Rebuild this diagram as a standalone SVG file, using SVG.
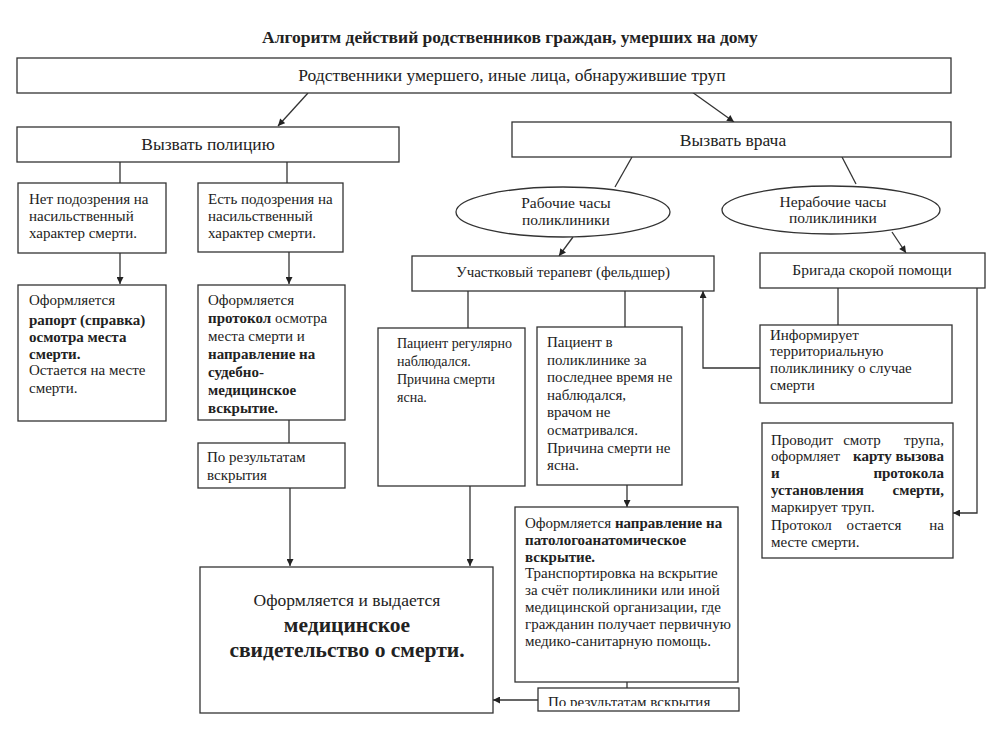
<svg xmlns="http://www.w3.org/2000/svg" width="1000" height="734" viewBox="0 0 1000 734" font-family="'Liberation Serif', 'DejaVu Serif', 'Times New Roman', serif">
<style>
.box{fill:#fff;stroke:#333;stroke-width:1.3}
.ln{fill:none;stroke:#333;stroke-width:1.3}
text{fill:#222;font-size:15px}
.b{font-weight:bold}
.c{text-anchor:middle}
.e{text-anchor:end}
.s{font-size:14px}
.el{font-size:15.5px}
.t{font-size:17.5px}
</style>
<defs>
<marker id="ah" viewBox="0 0 10 10" refX="10" refY="5" markerWidth="8" markerHeight="7" markerUnits="userSpaceOnUse" orient="auto">
<path d="M0,0 L10,5 L0,10 z" fill="#222"/>
</marker>
<clipPath id="clipLast"><rect x="538" y="688" width="201" height="18"/></clipPath>
</defs>
<rect width="1000" height="734" fill="#fff"/>
<text class="b c t" x="510" y="43">Алгоритм действий родственников граждан, умерших на дому</text>

<g id="connectors">
<line class="ln" x1="308" y1="93" x2="278" y2="126" marker-end="url(#ah)"/>
<line class="ln" x1="692" y1="92" x2="734" y2="122" marker-end="url(#ah)"/>
<line class="ln" x1="120" y1="162" x2="120" y2="183"/>
<line class="ln" x1="287" y1="162" x2="287" y2="183"/>
<line class="ln" x1="120" y1="253" x2="120" y2="284" marker-end="url(#ah)"/>
<line class="ln" x1="289" y1="252" x2="289" y2="284" marker-end="url(#ah)"/>
<line class="ln" x1="289" y1="420" x2="289" y2="443"/>
<line class="ln" x1="290" y1="488" x2="290" y2="566" marker-end="url(#ah)"/>
<line class="ln" x1="470" y1="486" x2="470" y2="566" marker-end="url(#ah)"/>
<line class="ln" x1="632" y1="157" x2="615" y2="187"/>
<line class="ln" x1="842" y1="157" x2="856" y2="184"/>
<line class="ln" x1="573" y1="237" x2="559" y2="256" marker-end="url(#ah)"/>
<line class="ln" x1="892" y1="232" x2="906" y2="253" marker-end="url(#ah)"/>
<line class="ln" x1="468" y1="291" x2="468" y2="328"/>
<line class="ln" x1="625" y1="291" x2="625" y2="327"/>
<line class="ln" x1="627" y1="485" x2="627" y2="507" marker-end="url(#ah)"/>
<line class="ln" x1="838" y1="288" x2="838" y2="325"/>
<polyline class="ln" points="760,368 703,368 703,291" marker-end="url(#ah)"/>
<polyline class="ln" points="977,288 977,513 953,513" marker-end="url(#ah)"/>
<line class="ln" x1="627" y1="682" x2="627" y2="688"/>
<line class="ln" x1="538" y1="700" x2="493" y2="700" marker-end="url(#ah)"/>
</g>

<g id="n-top">
<rect class="box" x="17" y="58" width="934" height="35"/>
<text class="c t" x="512" y="81">Родственники умершего, иные лица, обнаружившие труп</text>
</g>
<g id="n-police">
<rect class="box" x="17" y="127" width="382" height="35"/>
<text class="c t" x="208" y="150">Вызвать полицию</text>
</g>
<g id="n-doctor">
<rect class="box" x="512" y="122" width="439" height="35"/>
<text class="c t" x="733" y="146">Вызвать врача</text>
</g>
<g id="n-nosusp">
<rect class="box" x="18" y="183" width="148" height="70"/>
<text x="29" y="204">Нет подозрения на</text>
<text x="29" y="221">насильственный</text>
<text x="29" y="238">характер смерти.</text>
</g>
<g id="n-susp">
<rect class="box" x="198" y="183" width="145" height="69"/>
<text x="208" y="204">Есть подозрения на</text>
<text x="208" y="221">насильственный</text>
<text x="208" y="238">характер смерти.</text>
</g>
<g id="n-raport">
<rect class="box" x="18" y="285" width="148" height="136"/>
<text x="29" y="305">Оформляется</text>
<text class="b" x="29" y="325">рапорт (справка)</text>
<text class="b" x="29" y="342">осмотра места</text>
<text class="b" x="29" y="359">смерти.</text>
<text x="29" y="375">Остается на месте</text>
<text x="29" y="393">смерти.</text>
</g>
<g id="n-protokol">
<rect class="box" x="198" y="285" width="147" height="135"/>
<text x="208" y="305">Оформляется</text>
<text x="208" y="323"><tspan class="b">протокол</tspan> осмотра</text>
<text x="208" y="341">места смерти и</text>
<text class="b" x="208" y="359">направление на</text>
<text class="b" x="208" y="377">судебно-</text>
<text class="b" x="208" y="395">медицинское</text>
<text class="b" x="208" y="413">вскрытие.</text>
</g>
<g id="n-results1">
<rect class="box" x="198" y="443" width="147" height="45"/>
<text x="207" y="462">По результатам</text>
<text x="207" y="480">вскрытия</text>
</g>
<g id="n-final">
<rect class="box" x="200" y="567" width="293" height="146"/>
<text class="c" x="347" y="606" style="font-size:17.5px">Оформляется и выдается</text>
<text class="c b" x="347" y="632" style="font-size:21.5px">медицинское</text>
<text class="c b" x="347" y="657" style="font-size:21.5px">свидетельство о смерти.</text>
</g>
<g id="n-workhours">
<ellipse class="box" cx="563" cy="212" rx="107" ry="25"/>
<text class="c el" x="566" y="208">Рабочие часы</text>
<text class="c el" x="566" y="225">поликлиники</text>
</g>
<g id="n-offhours">
<ellipse class="box" cx="831" cy="210" rx="109" ry="24"/>
<text class="c el" x="833" y="207">Нерабочие часы</text>
<text class="c el" x="833" y="223">поликлиники</text>
</g>
<g id="n-therapist">
<rect class="box" x="412" y="256" width="302" height="35"/>
<text class="c" x="563" y="277">Участковый терапевт (фельдшер)</text>
</g>
<g id="n-ambulance">
<rect class="box" x="760" y="253" width="225" height="35"/>
<text class="c el" x="872" y="275">Бригада скорой помощи</text>
</g>
<g id="n-regular">
<rect class="box" x="378" y="328" width="147" height="158"/>
<text class="s" x="397" y="348">Пациент регулярно</text>
<text class="s" x="397" y="366">наблюдался.</text>
<text class="s" x="397" y="384">Причина смерти</text>
<text class="s" x="397" y="402">ясна.</text>
</g>
<g id="n-notobserved">
<rect class="box" x="537" y="327" width="145" height="158"/>
<text x="547" y="347">Пациент в</text>
<text x="547" y="365">поликлинике за</text>
<text x="547" y="382">последнее время не</text>
<text x="547" y="400">наблюдался,</text>
<text x="547" y="417">врачом не</text>
<text x="547" y="435">осматривался.</text>
<text x="547" y="453">Причина смерти не</text>
<text x="547" y="470">ясна.</text>
</g>
<g id="n-inform">
<rect class="box" x="760" y="325" width="192" height="78"/>
<text x="770" y="340">Информирует</text>
<text x="770" y="356">территориальную</text>
<text x="770" y="373">поликлинику о случае</text>
<text x="770" y="390">смерти</text>
</g>
<g id="n-inspect">
<rect class="box" x="762" y="423" width="191" height="135"/>
<text x="771" y="445">Проводит</text><text class="c" x="862" y="445">смотр</text><text class="e" x="944" y="445">трупа,</text>
<text x="771" y="461">оформляет</text><text class="b e" x="944" y="461">карту вызова</text>
<text class="b" x="771" y="478">и</text><text class="b e" x="944" y="478">протокола</text>
<text class="b" x="771" y="495">установления</text><text class="b e" x="944" y="495">смерти,</text>
<text x="771" y="512">маркирует труп.</text>
<text x="771" y="530">Протокол</text><text class="c" x="874" y="530">остается</text><text class="e" x="944" y="530">на</text>
<text x="771" y="547">месте смерти.</text>
</g>
<g id="n-pathology">
<rect class="box" x="515" y="507" width="223" height="175"/>
<text x="525" y="528">Оформляется <tspan class="b">направление на</tspan></text>
<text class="b" x="525" y="545">патологоанатомическое</text>
<text class="b" x="525" y="562">вскрытие.</text>
<text x="525" y="578">Транспортировка на вскрытие</text>
<text x="525" y="595">за счёт поликлиники или иной</text>
<text x="525" y="612">медицинской организации, где</text>
<text x="525" y="629">гражданин получает первичную</text>
<text x="525" y="646">медико-санитарную помощь.</text>
</g>
<g id="n-results2">
<rect class="box" x="538" y="688" width="201" height="23"/>
<text x="548" y="707" clip-path="url(#clipLast)">По результатам вскрытия</text>
</g>
</svg>
